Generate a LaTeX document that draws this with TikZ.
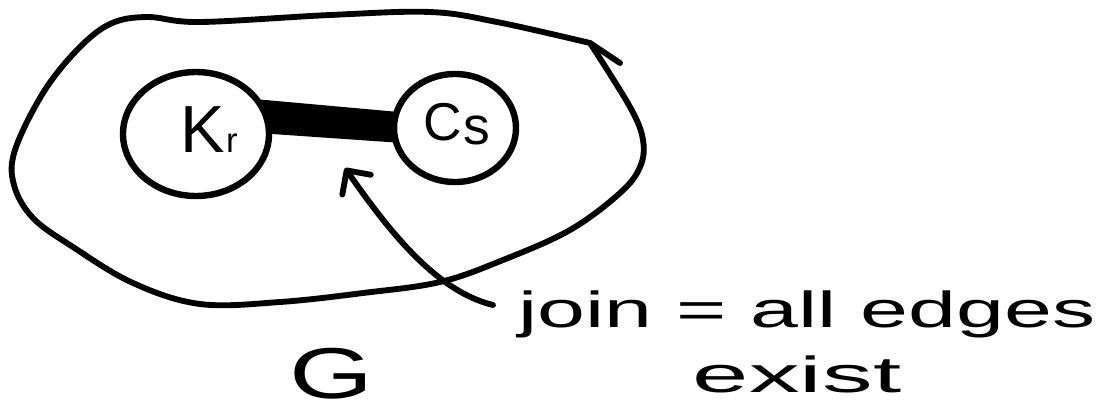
\documentclass[tikz,border=0pt]{standalone}
\usepackage{fontspec}
\setmainfont{Liberation Sans}
\usetikzlibrary{shapes.geometric,arrows.meta}
\begin{document}
\begin{tikzpicture}[x=0.75pt,y=-0.75pt,line cap=round,line join=round,
  pen/.style={line width=4.4pt},
  ring/.style={ellipse,draw,line width=4.8pt,inner sep=0pt},
  hand/.style={inner sep=0pt,transform shape},
  pointer/.style={pen,-{Straight Barb[round,length=13pt,width=26pt]}}]
\useasboundingbox (0,0) rectangle (1112,415);
% outer blob G
\draw[pen] plot[smooth,tension=0.6] coordinates {(590,43) (630,107) (643,140) (640,167) (620,193) (570,230) (503,260) (440,282) (363,293) (280,302) (200,304) (133,283) (73,247) (33,218) (14,185) (15,150) (43,93) (77,50) (110,24) (147,17) (200,22) (330,15) (430,12) (497,22) (590,43)};
\draw[pen] (590,43) -- (620,63);
% inner sets
\node[ring,minimum width=109.5pt,minimum height=93pt] (Kr) at (196,134) {};
\node[ring,minimum width=91.5pt,minimum height=81pt] (Cs) at (455,128) {};
% join bar
\fill (Kr.28) -- (Cs.165) -- (Cs.193) -- (Kr.0) -- cycle;
% labels
\node[hand,font=\fontsize{50}{50}\selectfont,anchor=base west] (KrL) at (180,152) {K\kern1pt{\fontsize{26}{26}\selectfont r}};
\node[hand,font=\fontsize{40}{40}\selectfont,anchor=base west] (CsL) at (423,140) {C\kern1pt\raisebox{-3.5pt}{s}};
\node[hand,xscale=1.5,font=\fontsize{54}{54}\selectfont,anchor=base] (G) at (331,398) {G};
\node[hand,xscale=1.7,font=\fontsize{38}{38}\selectfont,anchor=base west] (join) at (518,327) {join = all edges};
\node[hand,xscale=2.0,font=\fontsize{38}{38}\selectfont,anchor=base] (exist) at (797,392) {exist};
% arrow
\coordinate (a0) at (493,305);
\coordinate (a1) at (345,168);
\draw[pointer] (a0) .. controls (440,292) and (395,240) .. (a1);
\end{tikzpicture}
\end{document}
